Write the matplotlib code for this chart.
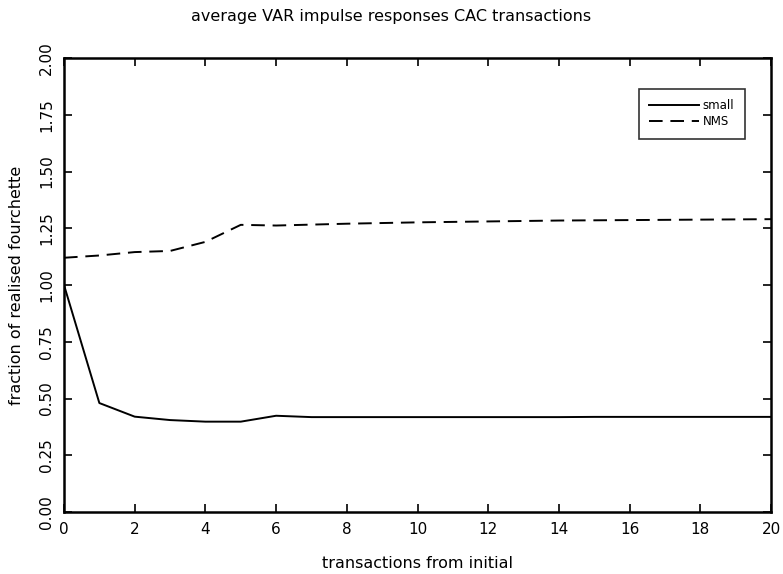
import numpy as np
import matplotlib
matplotlib.use("Agg")
import matplotlib.pyplot as plt

font = "DejaVu Sans"

# transactions after the initial one
steps = list(range(0, 21))
small = [1.00, 0.48, 0.42, 0.405, 0.398, 0.398, 0.424, 0.418, 0.418, 0.418,
         0.418, 0.418, 0.418, 0.418, 0.418, 0.419, 0.419, 0.419, 0.419, 0.419, 0.419]
nms = [1.12, 1.13, 1.145, 1.15, 1.19, 1.265, 1.262, 1.266, 1.27, 1.273,
       1.276, 1.278, 1.280, 1.282, 1.284, 1.285, 1.286, 1.287, 1.288, 1.289, 1.29]
xticks = list(range(0, 21, 2))
yticks = [0.0, 0.25, 0.5, 0.75, 1.0, 1.25, 1.5, 1.75, 2.0]

fig = plt.figure(figsize=(7.83, 5.74), dpi=100)
ax = fig.add_axes([64 / 783, 1 - 512 / 574, (771 - 64) / 783, (512 - 58) / 574])

ax.plot(steps, small, color="black", linewidth=1.4, label="small")
ax.plot(steps, nms, color="black", linewidth=1.4, dashes=(7, 4), label="NMS")

ax.set_xlim(0, 20)
ax.set_ylim(0, 2)
ax.set_xticks(xticks)
ax.set_yticks(yticks)
ax.set_yticklabels(["%.2f" % v for v in yticks], rotation=90, va="center")
ax.tick_params(direction="in", length=6, width=1.2, top=True, right=True,
               labelsize=11, pad=7)
for s in ax.spines.values():
    s.set_linewidth(1.8)
for l in ax.get_xticklabels() + ax.get_yticklabels():
    l.set_family(font)

ax.set_xlabel("transactions from initial", fontname=font, fontsize=11.5, labelpad=14)
ax.set_ylabel("fraction of realised fourchette", fontname=font, fontsize=11.5, labelpad=11)
fig.text(0.5, 1 - 17 / 574, "average VAR impulse responses CAC transactions",
         ha="center", va="center", fontname=font, fontsize=11.5)

leg = ax.legend(loc="upper right", bbox_to_anchor=(0.963, 0.932), fontsize=8.5,
                frameon=True, fancybox=False, handlelength=4.2, borderpad=0.9,
                labelspacing=0.25, handletextpad=0.3, borderaxespad=0)
leg.get_frame().set_edgecolor("black")
leg.get_frame().set_linewidth(1.2)

fig.savefig("out.png", dpi=100)
